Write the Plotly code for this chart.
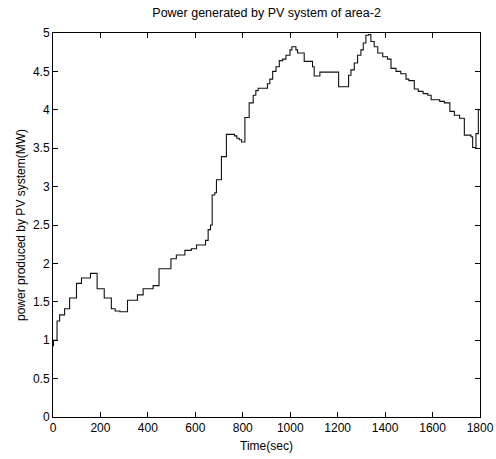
import plotly.graph_objects as go

# step-change instants (s) and PV power level held from that instant (MW)
step_time = [0, 2, 17, 28, 49, 70, 99, 120, 158, 186, 216, 246, 262, 282, 314, 356, 380,
             422, 447, 497, 520, 556, 583, 605, 643, 654, 664, 671, 682, 689, 710, 731,
             765, 775, 785, 795, 809, 827, 844, 855, 865, 904, 914, 926, 940, 954, 968,
             982, 999, 1007, 1024, 1031, 1059, 1094, 1101, 1125, 1204, 1246, 1256, 1270,
             1284, 1298, 1308, 1319, 1330, 1340, 1354, 1369, 1390, 1410, 1425, 1446, 1466,
             1488, 1500, 1523, 1540, 1560, 1580, 1594, 1630, 1650, 1673, 1692, 1714, 1734,
             1762, 1769, 1783, 1793, 1800]
step_power = [0.93, 1.00, 1.25, 1.33, 1.41, 1.55, 1.74, 1.81, 1.87, 1.67, 1.55, 1.41, 1.38,
              1.37, 1.52, 1.59, 1.67, 1.71, 1.93, 2.06, 2.11, 2.17, 2.19, 2.24, 2.30, 2.44,
              2.50, 2.89, 2.92, 3.09, 3.39, 3.68, 3.66, 3.63, 3.61, 3.58, 3.90, 4.09, 4.19,
              4.25, 4.28, 4.34, 4.40, 4.50, 4.56, 4.64, 4.66, 4.71, 4.78, 4.82, 4.78, 4.74,
              4.63, 4.56, 4.44, 4.49, 4.30, 4.45, 4.52, 4.61, 4.71, 4.78, 4.87, 4.97, 4.98,
              4.89, 4.82, 4.74, 4.69, 4.66, 4.54, 4.50, 4.47, 4.40, 4.38, 4.27, 4.24, 4.21,
              4.19, 4.13, 4.11, 4.09, 3.98, 3.93, 3.89, 3.67, 3.65, 3.51, 3.69, 4.00, 4.00]

x_ticks = list(range(0, 2000, 200))
y_ticks = [0, 0.5, 1, 1.5, 2, 2.5, 3, 3.5, 4, 4.5, 5]
y_tick_labels = ["0", "0.5", "1", "1.5", "2", "2.5", "3", "3.5", "4", "4.5", "5"]

font_family = "Liberation Sans, Arial, sans-serif"

fig = go.Figure()
fig.add_trace(go.Scatter(x=step_time, y=step_power, mode="lines",
                         line=dict(color="#111111", width=1.1, shape="hv"),
                         showlegend=False, hoverinfo="skip"))

axis_common = dict(showline=True, linecolor="black", linewidth=1, mirror="ticks",
                   ticks="inside", ticklen=5, tickwidth=1, tickcolor="black",
                   showgrid=False, zeroline=False, automargin=False,
                   tickfont=dict(family=font_family, size=12, color="black"))

fig.update_layout(
    width=496, height=459,
    margin=dict(l=53, r=16, t=33, b=42),
    paper_bgcolor="white", plot_bgcolor="white",
    title=dict(text="Power generated by PV system of area-2",
               font=dict(family=font_family, size=12.5, color="black"),
               x=0.5375, xanchor="center", y=0.972, yanchor="middle"),
    xaxis=dict(range=[0, 1800], tickvals=x_ticks, **axis_common,
               title=dict(text="Time(sec)", standoff=7,
                          font=dict(family=font_family, size=12, color="black"))),
    yaxis=dict(range=[0, 5], tickvals=y_ticks, ticktext=y_tick_labels, **axis_common,
               title=dict(text="power produced by PV system(MW)", standoff=4,
                          font=dict(family=font_family, size=12, color="black"))),
)

fig.write_html("out.html")
